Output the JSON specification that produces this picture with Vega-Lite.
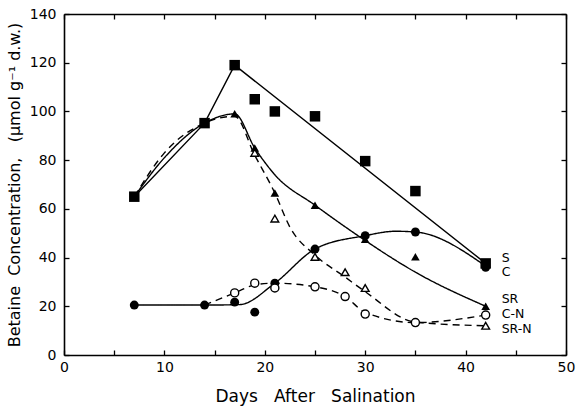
{
  "$schema": "https://vega.github.io/schema/vega-lite/v6.json",
  "width": 502,
  "height": 341,
  "autosize": {"type": "none"},
  "padding": {"left": 64, "top": 14, "right": 10, "bottom": 59},
  "background": "white",
  "config": {
    "view": {"stroke": null},
    "font": "DejaVu Sans",
    "axis": {
      "domainColor": "black",
      "domainWidth": 1.6,
      "tickColor": "black",
      "tickWidth": 1.3,
      "labelColor": "black",
      "titleColor": "black",
      "labelFont": "DejaVu Sans",
      "titleFont": "DejaVu Sans",
      "labelFontSize": 14,
      "titleFontSize": 16,
      "titleFontWeight": "normal",
      "grid": false
    }
  },
  "datasets": {
    "pts": [
      {"series": "S", "day": 7, "value": 65},
      {"series": "S", "day": 14, "value": 95.2},
      {"series": "S", "day": 17, "value": 119},
      {"series": "S", "day": 19, "value": 105},
      {"series": "S", "day": 21, "value": 100},
      {"series": "S", "day": 25, "value": 98},
      {"series": "S", "day": 30, "value": 79.6},
      {"series": "S", "day": 35, "value": 67.3},
      {"series": "S", "day": 42, "value": 37.6},
      {"series": "C", "day": 7, "value": 20.5},
      {"series": "C", "day": 14, "value": 20.5},
      {"series": "C", "day": 17, "value": 21.7},
      {"series": "C", "day": 19, "value": 17.6},
      {"series": "C", "day": 21, "value": 29.5},
      {"series": "C", "day": 25, "value": 43.5},
      {"series": "C", "day": 30, "value": 49},
      {"series": "C", "day": 35, "value": 50.5},
      {"series": "C", "day": 42, "value": 36},
      {"series": "SR", "day": 17, "value": 99},
      {"series": "SR", "day": 19, "value": 85},
      {"series": "SR", "day": 21, "value": 66.5},
      {"series": "SR", "day": 25, "value": 61.5},
      {"series": "SR", "day": 30, "value": 47.5},
      {"series": "SR", "day": 35, "value": 40.3},
      {"series": "SR", "day": 42, "value": 20},
      {"series": "C-N", "day": 17, "value": 25.5},
      {"series": "C-N", "day": 19, "value": 29.5},
      {"series": "C-N", "day": 21, "value": 27.5},
      {"series": "C-N", "day": 25, "value": 28},
      {"series": "C-N", "day": 28, "value": 24},
      {"series": "C-N", "day": 30, "value": 16.8},
      {"series": "C-N", "day": 35, "value": 13.3},
      {"series": "C-N", "day": 42, "value": 16.4},
      {"series": "SR-N", "day": 19, "value": 83},
      {"series": "SR-N", "day": 21, "value": 56},
      {"series": "SR-N", "day": 25, "value": 40.3},
      {"series": "SR-N", "day": 28, "value": 34},
      {"series": "SR-N", "day": 30, "value": 27.5},
      {"series": "SR-N", "day": 42, "value": 12}
    ],
    "curves": [
      {"series": "S", "day": 7, "value": 65},
      {"series": "S", "day": 14, "value": 95.2},
      {"series": "S", "day": 17, "value": 119},
      {"series": "S", "day": 42, "value": 37.6},
      {"series": "C", "day": 7, "value": 20.5},
      {"series": "C", "day": 14, "value": 20.5},
      {"series": "C", "day": 17.5, "value": 20.7},
      {"series": "C", "day": 21, "value": 29.5},
      {"series": "C", "day": 25, "value": 43.5},
      {"series": "C", "day": 30, "value": 49},
      {"series": "C", "day": 33, "value": 50.8},
      {"series": "C", "day": 35, "value": 50.5},
      {"series": "C", "day": 42, "value": 36.5},
      {"series": "SR", "day": 7, "value": 65},
      {"series": "SR", "day": 10, "value": 81},
      {"series": "SR", "day": 14, "value": 95.2},
      {"series": "SR", "day": 17, "value": 99},
      {"series": "SR", "day": 19, "value": 85},
      {"series": "SR", "day": 21, "value": 74},
      {"series": "SR", "day": 25, "value": 61.5},
      {"series": "SR", "day": 30, "value": 47},
      {"series": "SR", "day": 35, "value": 34},
      {"series": "SR", "day": 42, "value": 20},
      {"series": "C-N", "day": 14, "value": 20.5},
      {"series": "C-N", "day": 17, "value": 25.5},
      {"series": "C-N", "day": 19, "value": 28.8},
      {"series": "C-N", "day": 21, "value": 29.5},
      {"series": "C-N", "day": 25, "value": 28},
      {"series": "C-N", "day": 28, "value": 24},
      {"series": "C-N", "day": 30, "value": 17.5},
      {"series": "C-N", "day": 35, "value": 13.3},
      {"series": "C-N", "day": 42, "value": 16.4},
      {"series": "SR-N", "day": 7, "value": 65},
      {"series": "SR-N", "day": 10, "value": 83},
      {"series": "SR-N", "day": 14, "value": 95.2},
      {"series": "SR-N", "day": 17, "value": 98},
      {"series": "SR-N", "day": 19, "value": 82},
      {"series": "SR-N", "day": 21, "value": 66.5},
      {"series": "SR-N", "day": 22.5, "value": 52.5},
      {"series": "SR-N", "day": 25, "value": 41},
      {"series": "SR-N", "day": 28, "value": 32},
      {"series": "SR-N", "day": 30, "value": 26},
      {"series": "SR-N", "day": 35, "value": 13.5},
      {"series": "SR-N", "day": 42, "value": 12}
    ],
    "labels": [
      {"label": "S", "day": 42, "value": 39.8},
      {"label": "C", "day": 42, "value": 34.2},
      {"label": "SR", "day": 42, "value": 23},
      {"label": "C-N", "day": 42, "value": 16.7},
      {"label": "SR-N", "day": 42, "value": 10.8}
    ]
  },
  "layer": [
    {
      "data": {"name": "curves"},
      "transform": [{"filter": "datum.series == 'S'"}],
      "mark": {"type": "line", "color": "black", "strokeWidth": 1.4, "interpolate": "linear"},
      "encoding": {
        "x": {
          "field": "day", "type": "quantitative",
          "scale": {"domain": [0, 50], "nice": false, "zero": false},
          "axis": {
            "orient": "bottom",
            "values": [0, 5, 10, 15, 20, 25, 30, 35, 40, 45, 50],
            "labelExpr": "datum.value % 10 == 0 ? datum.label : ''",
            "tickSize": -5,
            "labelPadding": 10,
            "title": "Days\u00a0\u00a0\u00a0After\u00a0\u00a0\u00a0Salination",
            "titleFontSize": 17,
            "titlePadding": 14,
            "labelFlush": false
          }
        },
        "y": {
          "field": "value", "type": "quantitative",
          "scale": {"domain": [0, 140], "nice": false},
          "axis": {
            "orient": "left",
            "values": [0, 20, 40, 60, 80, 100, 120, 140],
            "tickSize": -5,
            "labelPadding": 13,
            "title": "Betaine\u00a0\u00a0Concentration,\u00a0\u00a0\u00a0(μmol\u00a0g⁻¹\u00a0d.w.)",
            "titlePadding": 7,
            "labelFlush": false
          }
        }
      }
    },
    {
      "data": {"name": "pts"},
      "mark": {"type": "point", "opacity": 0},
      "encoding": {
        "x": {
          "field": "day", "type": "quantitative",
          "axis": {
            "orient": "top",
            "values": [0, 5, 10, 15, 20, 25, 30, 35, 40, 45, 50],
            "labels": false,
            "tickSize": -5,
            "title": null
          }
        },
        "y": {
          "field": "value", "type": "quantitative",
          "axis": {
            "orient": "right",
            "values": [0, 20, 40, 60, 80, 100, 120, 140],
            "labels": false,
            "tickSize": -5,
            "title": null
          }
        }
      }
    },
    {
      "data": {"name": "curves"},
      "transform": [{"filter": "datum.series != 'S'"}],
      "mark": {"type": "line", "color": "black", "strokeWidth": 1.4, "interpolate": "monotone"},
      "encoding": {
        "x": {"field": "day", "type": "quantitative", "axis": null},
        "y": {"field": "value", "type": "quantitative", "axis": null},
        "detail": {"field": "series"},
        "strokeDash": {
          "field": "series", "type": "nominal",
          "scale": {"domain": ["C", "SR", "C-N", "SR-N"], "range": [[1, 0], [1, 0], [7, 5], [7, 5]]},
          "legend": null
        }
      }
    },
    {
      "data": {"name": "pts"},
      "transform": [{"filter": "datum.series == 'S'"}],
      "mark": {"type": "point", "shape": "square", "filled": true, "color": "black", "size": 110, "opacity": 1},
      "encoding": {
        "x": {"field": "day", "type": "quantitative", "axis": null},
        "y": {"field": "value", "type": "quantitative", "axis": null}
      }
    },
    {
      "data": {"name": "pts"},
      "transform": [{"filter": "datum.series == 'C'"}],
      "mark": {"type": "point", "shape": "circle", "filled": true, "color": "black", "size": 80, "opacity": 1},
      "encoding": {
        "x": {"field": "day", "type": "quantitative", "axis": null},
        "y": {"field": "value", "type": "quantitative", "axis": null}
      }
    },
    {
      "data": {"name": "pts"},
      "transform": [{"filter": "datum.series == 'SR'"}],
      "mark": {"type": "point", "shape": "triangle-up", "filled": true, "color": "black", "size": 75, "opacity": 1},
      "encoding": {
        "x": {"field": "day", "type": "quantitative", "axis": null},
        "y": {"field": "value", "type": "quantitative", "axis": null}
      }
    },
    {
      "data": {"name": "pts"},
      "transform": [{"filter": "datum.series == 'C-N'"}],
      "mark": {"type": "point", "shape": "circle", "filled": false, "fill": "white", "fillOpacity": 1, "stroke": "black", "strokeWidth": 1.4, "size": 65, "opacity": 1},
      "encoding": {
        "x": {"field": "day", "type": "quantitative", "axis": null},
        "y": {"field": "value", "type": "quantitative", "axis": null}
      }
    },
    {
      "data": {"name": "pts"},
      "transform": [{"filter": "datum.series == 'SR-N'"}],
      "mark": {"type": "point", "shape": "triangle-up", "filled": false, "fill": "white", "fillOpacity": 1, "stroke": "black", "strokeWidth": 1.4, "size": 60, "opacity": 1},
      "encoding": {
        "x": {"field": "day", "type": "quantitative", "axis": null},
        "y": {"field": "value", "type": "quantitative", "axis": null}
      }
    },
    {
      "data": {"name": "labels"},
      "mark": {"type": "text", "align": "left", "baseline": "middle", "dx": 16, "fontSize": 12.5, "color": "black", "font": "DejaVu Sans"},
      "encoding": {
        "x": {"field": "day", "type": "quantitative", "axis": null},
        "y": {"field": "value", "type": "quantitative", "axis": null},
        "text": {"field": "label"}
      }
    }
  ],
  "resolve": {"axis": {"x": "independent", "y": "independent"}}
}
